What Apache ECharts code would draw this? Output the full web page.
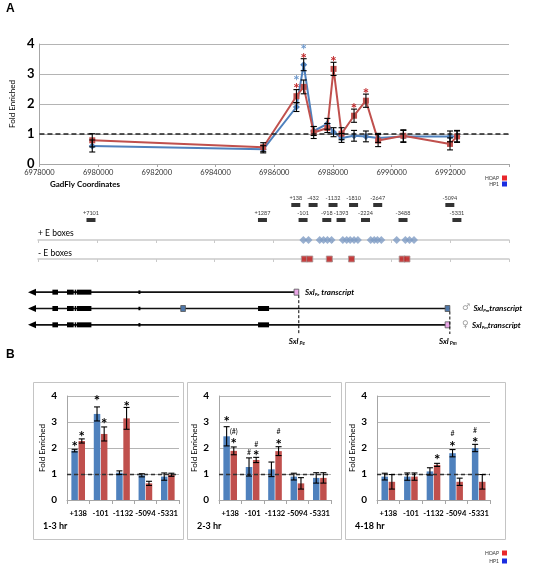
<!DOCTYPE html>
<html><head><meta charset="utf-8">
<script src="https://cdn.jsdelivr.net/npm/echarts@6/dist/echarts.min.js"></script>
<style>html,body{margin:0;padding:0;background:#fff}#c{width:549px;height:567px}</style>
</head><body><div id="c"></div>
<script>
// ---------- DATA ----------
const geneMin = 6978000, geneMax = 6994000, geneStep = 2000;
const ampliconNames  = ['+7101','+1287','+138','-101','-432','-918','-1132','-1393','-1810','-2224','-2647','-3488','-5094','-5331'];
const ampliconCoords = [6979800,6985625,6986757,6987004,6987345,6987810,6988022,6988295,6988720,6989125,6989540,6990400,6991990,6992230];
const ampliconRow    = [2,2,1,2,1,2,1,2,1,2,1,2,1,2];
const hp1A     = [0.60,0.49,1.90,3.31,1.10,1.34,1.06,0.87,0.94,0.92,0.87,0.92,0.92,0.92];
const hp1AErr  = [0.20,0.12,0.15,0.20,0.15,0.18,0.15,0.15,0.18,0.18,0.15,0.20,0.18,0.18];
const hoapA    = [0.79,0.56,2.26,2.57,1.05,1.20,3.17,1.01,1.61,2.11,0.78,0.94,0.67,0.92];
const hoapAErr = [0.22,0.15,0.22,0.23,0.20,0.15,0.22,0.20,0.22,0.22,0.20,0.20,0.20,0.20];
const hp1AStars  = [[6986757,2.90],[6987004,3.92]];
const hoapAStars = [[6986757,2.62],[6987004,3.62],[6988022,3.55],[6988720,1.98],[6989125,2.48]];
const plusEBoxes  = [6987015,6987189,6987570,6987701,6987832,6987973,6988355,6988486,6988605,6988736,6988867,6989302,6989422,6989531,6989662,6990185,6990479,6990621,6990773];
const minusEBoxes = [6987048,6987233,6987897,6988649,6990370,6990533];
const transcriptLanes = ['SxlPe','maleSxlPm','femaleSxlPm'];
const transcriptSpans = [[0,6977660,6986859],[1,6977660,6991990],[2,6977660,6991990]];
const exons = [
  [0,6978489,6978680,1],[0,6978985,6979213,1],[0,6979247,6979300,1],[0,6979325,6979814,1],[0,6981411,6981479,0],
  [1,6978489,6978680,1],[1,6978985,6979213,1],[1,6979247,6979300,1],[1,6979325,6979814,1],[1,6981411,6981479,0],[1,6985475,6985849,1],
  [2,6978489,6978680,1],[2,6978985,6979213,1],[2,6979247,6979300,1],[2,6979325,6979814,1],[2,6981411,6981479,0],[2,6985475,6985849,1]
];
const tssBoxes = [[0,6986699,6986859,'pink'],[1,6982849,6983009,'blue'],[1,6991830,6991990,'blue'],[2,6991830,6991990,'pink']];
const promoters = [[6986859,0,'Pe'],[6991990,1,'Pm']];

const bCategories = ['+138','-101','-1132','-5094','-5331'];
const bPanels = ['1-3 hr','2-3 hr','4-18 hr'];
const hp1B  = [[1.90,3.31,1.05,0.95,0.90],[2.45,1.27,1.18,0.90,0.85],[0.90,0.90,1.10,1.80,2.00]];
const hp1BErr  = [[0.05,0.27,0.07,0.06,0.14],[0.37,0.35,0.28,0.13,0.20],[0.13,0.14,0.14,0.14,0.14]];
const hoapB = [[2.27,2.54,3.14,0.64,0.97],[1.89,1.54,1.88,0.64,0.85],[0.70,0.90,1.35,0.70,0.70]];
const hoapBErr = [[0.08,0.27,0.42,0.08,0.06],[0.15,0.10,0.17,0.22,0.20],[0.28,0.14,0.06,0.14,0.28]];
const bMarks = [
  [[0,0,2.20,'*'],[0,1,2.56,'*'],[1,0,3.97,'*'],[1,1,3.08,'*'],[2,1,3.74,'*']],
  [[0,0,3.16,'*'],[0,1,2.62,'(#)'],[0,1,2.30,'*'],[1,0,1.82,'#'],[1,1,2.14,'#'],[1,1,1.86,'*'],[2,1,2.63,'#'],[2,1,2.27,'*']],
  [[2,1,1.70,'*'],[3,0,2.54,'#'],[3,0,2.18,'*'],[4,0,2.67,'#'],[4,0,2.33,'*']]
];

// ---------- STYLE ----------
const BLUE = '#4f81bd', RED = '#c0504d', FONT = 'Lato, "Liberation Sans", sans-serif';
const GRIDC = '#b4b4b4';
const chart = echarts.init(document.getElementById('c'), null, {renderer: 'canvas'});

function errSeries(xi, yi, data, offset) {
  return {
    type: 'custom', xAxisIndex: xi, yAxisIndex: yi, clip: false, z: 5, silent: true,
    data: data, encode: {x: 0, y: [1, 2]},
    renderItem: function (p, api) {
      const a = api.coord([api.value(0), api.value(1)]);
      const b = api.coord([api.value(0), api.value(2)]);
      const x = a[0] + offset, w = 3;
      const st = {stroke: '#000', lineWidth: 1.1};
      return {type: 'group', children: [
        {type: 'line', shape: {x1: x, y1: a[1], x2: x, y2: b[1]}, style: st},
        {type: 'line', shape: {x1: x - w, y1: a[1], x2: x + w, y2: a[1]}, style: st},
        {type: 'line', shape: {x1: x - w, y1: b[1], x2: x + w, y2: b[1]}, style: st}
      ]};
    }
  };
}
function textSeries(xi, yi, data, colorFn, sizeFn, offsetFn) {
  return {
    type: 'custom', xAxisIndex: xi, yAxisIndex: yi, clip: false, z: 6, silent: true,
    data: data, encode: {x: 0, y: 1},
    renderItem: function (p, api) {
      const d = data[p.dataIndex];
      const c = api.coord([api.value(0), api.value(1)]);
      const fs = sizeFn(d);
      const isStar = d[d.length - 1] === '*' || d.length === 2;
      return {type: 'text', x: c[0] + offsetFn(d), y: c[1] + (isStar ? fs * 0.28 : 0),
        style: {text: d.length === 2 ? '*' : d[d.length - 1], fill: colorFn(d),
          font: (isStar ? 'bold ' : '') + fs + 'px ' + FONT, align: 'center', verticalAlign: 'middle'}};
    }
  };
}

const grids = [
  {left: 38, top: 44, width: 471, height: 120},
  {left: 38, top: 190, width: 471, height: 45},
  {left: 38, top: 230, width: 471, height: 10},
  {left: 38, top: 249, width: 471, height: 10},
  {left: 38, top: 284, width: 471, height: 49},
  {left: 67, top: 396, width: 112, height: 104},
  {left: 219, top: 396, width: 112, height: 104},
  {left: 377, top: 396, width: 113, height: 104}
];
const hidden = {show: false};
const xAxes = [
  {gridIndex: 0, type: 'value', min: geneMin, max: geneMax, interval: geneStep,
   axisLine: {lineStyle: {color: '#a6a6a6'}}, axisTick: {show: true, length: 3, lineStyle: {color: '#a6a6a6'}},
   splitLine: hidden,
   axisLabel: {fontSize: 7.5, color: '#333', fontFamily: FONT, margin: 5,
     formatter: v => v >= geneMax ? '' : String(v)}},
  {gridIndex: 1, type: 'value', min: geneMin, max: geneMax, show: false},
  {gridIndex: 2, type: 'value', min: geneMin, max: geneMax, interval: geneStep,
   axisLine: {lineStyle: {color: '#cacaca', width: 1.5}}, axisTick: {show: true, length: 3, lineStyle: {color: '#cacaca'}},
   axisLabel: hidden, splitLine: hidden},
  {gridIndex: 3, type: 'value', min: geneMin, max: geneMax, interval: geneStep,
   axisLine: {lineStyle: {color: '#cacaca', width: 1.5}}, axisTick: {show: true, length: 3, lineStyle: {color: '#cacaca'}},
   axisLabel: hidden, splitLine: hidden},
  {gridIndex: 4, type: 'value', min: geneMin, max: geneMax, show: false}
];
const yAxes = [
  {gridIndex: 0, type: 'value', min: 0, max: 4, interval: 1,
   name: 'Fold Enriched', nameLocation: 'middle', nameGap: 16, nameRotate: 90,
   nameTextStyle: {fontSize: 8, color: '#000', fontFamily: FONT},
   axisLine: {show: true, lineStyle: {color: '#a6a6a6'}}, axisTick: hidden,
   axisLabel: {fontSize: 13, fontWeight: 'bold', color: '#000', fontFamily: FONT, margin: 5},
   splitLine: {lineStyle: {color: GRIDC}}},
  {gridIndex: 1, type: 'value', min: 0, max: 3, inverse: true, show: false},
  {gridIndex: 2, type: 'value', min: 0, max: 1, show: false},
  {gridIndex: 3, type: 'value', min: 0, max: 1, show: false},
  {gridIndex: 4, type: 'category', data: transcriptLanes, inverse: true, show: false}
];
bPanels.forEach((_, k) => {
  xAxes.push({gridIndex: 5 + k, type: 'category', data: bCategories,
    axisLine: {lineStyle: {color: '#a6a6a6'}}, axisTick: {show: true, length: 4, lineStyle: {color: '#a6a6a6'}},
    axisLabel: {fontSize: 7.6, fontWeight: 'bold', color: '#000', fontFamily: FONT, margin: 10, interval: 0}});
  yAxes.push({gridIndex: 5 + k, type: 'value', min: 0, max: 4, interval: 1,
    name: 'Fold Enriched', nameLocation: 'middle', nameGap: 21, nameRotate: 90,
    nameTextStyle: {fontSize: 8, color: '#000', fontFamily: FONT},
    axisLine: {show: true, lineStyle: {color: '#a6a6a6'}}, axisTick: hidden,
    axisLabel: {fontSize: 10, fontWeight: 'bold', color: '#000', fontFamily: FONT, margin: 10},
    splitLine: {lineStyle: {color: GRIDC}}});
});

const series = [];
// Panel A lines
const dashLine = {silent: true, symbol: 'none', label: {show: false},
  lineStyle: {type: [5, 3], color: '#222', width: 1.6}, data: [{yAxis: 1}]};
series.push({type: 'line', xAxisIndex: 0, yAxisIndex: 0, z: 3,
  data: ampliconCoords.map((x, i) => [x, hp1A[i]]),
  symbol: 'diamond', symbolSize: 7, itemStyle: {color: BLUE}, lineStyle: {color: BLUE, width: 2},
  markLine: dashLine});
series.push({type: 'line', xAxisIndex: 0, yAxisIndex: 0, z: 4,
  data: ampliconCoords.map((x, i) => [x, hoapA[i]]),
  symbol: 'rect', symbolSize: 6, itemStyle: {color: RED}, lineStyle: {color: RED, width: 2}});
series.push(errSeries(0, 0, ampliconCoords.map((x, i) => [x, hp1A[i] - hp1AErr[i], hp1A[i] + hp1AErr[i]]), 0));
series.push(errSeries(0, 0, ampliconCoords.map((x, i) => [x, hoapA[i] - hoapAErr[i], hoapA[i] + hoapAErr[i]]), 0));
series.push(textSeries(0, 0, hp1AStars, () => '#6d98cc', () => 15, () => 0));
series.push(textSeries(0, 0, hoapAStars, () => '#c0282a', () => 15, () => 0));

// Amplicons
series.push({type: 'scatter', xAxisIndex: 1, yAxisIndex: 1, symbol: 'rect', symbolSize: [9, 4], silent: true,
  itemStyle: {color: '#000'},
  data: ampliconCoords.map((x, i) => ({value: [x, ampliconRow[i]], name: ampliconNames[i]})),
  label: {show: true, position: 'top', distance: 2, formatter: p => p.name,
    fontSize: 5.5, color: '#000', fontFamily: FONT}});
// E boxes
series.push({type: 'scatter', xAxisIndex: 2, yAxisIndex: 2, symbol: 'diamond', symbolSize: 8, silent: true,
  itemStyle: {color: '#7f9cc4'}, data: plusEBoxes.map(x => [x, 0])});
series.push({type: 'scatter', xAxisIndex: 3, yAxisIndex: 3, symbol: 'rect', symbolSize: 6, silent: true,
  itemStyle: {color: '#bb1111', borderColor: '#a99', borderWidth: 1}, data: minusEBoxes.map(x => [x, 0])});

// Transcripts
series.push({type: 'custom', xAxisIndex: 4, yAxisIndex: 4, clip: false, silent: true,
  data: transcriptSpans, encode: {x: [1, 2], y: 0},
  renderItem: function (p, api) {
    const a = api.coord([api.value(1), api.value(0)]);
    const b = api.coord([api.value(2), api.value(0)]);
    return {type: 'group', children: [
      {type: 'line', shape: {x1: a[0] + 4, y1: a[1], x2: b[0], y2: b[1]}, style: {stroke: '#111', lineWidth: 1.6}},
      {type: 'polygon', shape: {points: [[a[0], a[1]], [a[0] + 8, a[1] - 3.5], [a[0] + 8, a[1] + 3.5]]}, style: {fill: '#000'}}
    ]};
  }});
series.push({type: 'custom', xAxisIndex: 4, yAxisIndex: 4, clip: false, silent: true,
  data: exons, encode: {x: [1, 2], y: 0},
  renderItem: function (p, api) {
    const a = api.coord([api.value(1), api.value(0)]);
    const b = api.coord([api.value(2), api.value(0)]);
    const h = api.value(3) ? 5 : 3.5;
    return {type: 'rect', shape: {x: a[0], y: a[1] - h / 2, width: Math.max(b[0] - a[0], 1.5), height: h}, style: {fill: '#000'}};
  }});
series.push({type: 'custom', xAxisIndex: 4, yAxisIndex: 4, clip: false, silent: true, z: 4,
  data: tssBoxes, encode: {x: [1, 2], y: 0},
  renderItem: function (p, api) {
    const d = tssBoxes[p.dataIndex];
    const a = api.coord([d[1], d[0]]);
    const b = api.coord([d[2], d[0]]);
    return {type: 'rect', shape: {x: a[0], y: a[1] - 3, width: b[0] - a[0], height: 6},
      style: {fill: d[3] === 'pink' ? '#e9a6e6' : '#4f77a8', stroke: '#555', lineWidth: 0.8}};
  }});
series.push({type: 'custom', xAxisIndex: 4, yAxisIndex: 4, clip: false, silent: true, z: 5,
  data: promoters, encode: {x: 0, y: 1},
  renderItem: function (p, api) {
    const d = promoters[p.dataIndex];
    const a = api.coord([d[0], d[1]]);
    const bottom = p.coordSys.y + p.coordSys.height;
    return {type: 'group', children: [
      {type: 'line', shape: {x1: a[0], y1: a[1] + 3, x2: a[0], y2: bottom + 1}, style: {stroke: '#000', lineWidth: 1, lineDash: [3, 2]}},
      {type: 'text', x: a[0] - 2, y: bottom + 8, style: {
        text: '{s|Sxl}{p| ' + d[2] + '}', align: 'center', verticalAlign: 'middle',
        rich: {s: {font: 'italic bold 8px ' + FONT, fill: '#000'}, p: {font: 'italic bold 5px ' + FONT, fill: '#000', padding: [5, 0, 0, 0]}}}}
    ]};
  }});

// Panel B
bPanels.forEach((_, k) => {
  const xi = 5 + k;
  const bw = 6.5, gapPct = 0.1, off = (bw + bw * gapPct) / 2;
  series.push({type: 'bar', xAxisIndex: xi, yAxisIndex: xi, data: hp1B[k], barWidth: bw, barGap: '10%',
    itemStyle: {color: BLUE}, silent: true,
    markLine: {silent: true, symbol: 'none', label: {show: false},
      lineStyle: {type: [4, 3], color: '#333', width: 1.3}, data: [{yAxis: 1}]}});
  series.push({type: 'bar', xAxisIndex: xi, yAxisIndex: xi, data: hoapB[k], barWidth: bw, barGap: '10%',
    itemStyle: {color: RED}, silent: true});
  series.push(errSeries(xi, xi, hp1B[k].map((v, i) => [i, v - hp1BErr[k][i], v + hp1BErr[k][i]]), -off));
  series.push(errSeries(xi, xi, hoapB[k].map((v, i) => [i, v - hoapBErr[k][i], v + hoapBErr[k][i]]), off));
  series.push(textSeries(xi, xi, bMarks[k].map(m => [m[0], m[2], m[1], m[3]]), () => '#000',
    d => d[3] === '*' ? 15 : 7, d => d[2] ? off : -off));
});

// ---------- Static text / frames ----------
const g = [];
function txt(x, y, text, font, opts) {
  g.push(Object.assign({type: 'text', x: x, y: y, silent: true,
    style: Object.assign({text: text, font: font, fill: '#000', align: 'left', verticalAlign: 'middle'}, opts || {})}));
}
txt(6, 9, 'A', 'bold 12px Arial, sans-serif');
txt(6, 355, 'B', 'bold 12px Arial, sans-serif');
txt(50, 184, 'GadFly Coordinates', 'bold 8px ' + FONT);
txt(38, 233, '+ E boxes', '8.5px ' + FONT);
txt(38, 253, '- E boxes', '8.5px ' + FONT);
// legends
[[178, 'HOAP', '#e8262b'], [184, 'HP1', '#1a2de0'], [553, 'HOAP', '#e8262b'], [561, 'HP1', '#1a2de0']].forEach(l => {
  txt(499, l[0], l[1], '5px ' + FONT, {align: 'right', fill: '#333'});
  g.push({type: 'rect', silent: true, shape: {x: 502, y: l[0] - 2.5, width: 5, height: 5}, style: {fill: l[2]}});
});
// transcript labels
const richT = {s: {font: 'italic bold 8px ' + FONT, fill: '#000'}, p: {font: 'italic bold 4.5px ' + FONT, fill: '#000', padding: [5, 0, 0, 0]},
  t: {font: 'italic bold 8px ' + FONT, fill: '#000'}, g: {font: '9px "DejaVu Sans"', fill: '#999'}};
g.push({type: 'text', x: 305, y: 292, silent: true, style: {text: '{s|Sxl}{p|Pe}{t| transcript}', rich: richT, verticalAlign: 'middle'}});
g.push({type: 'text', x: 462, y: 308, silent: true, style: {text: '{g|♂} {s|Sxl}{p|Pm}{t|transcript}', rich: richT, verticalAlign: 'middle'}});
g.push({type: 'text', x: 462, y: 325, silent: true, style: {text: '{g|♀} {s|Sxl}{p|Pm}{t|transcript}', rich: richT, verticalAlign: 'middle'}});
// B frames & titles
[[33, 150], [187, 154], [345, 160]].forEach((f, k) => {
  g.push({type: 'rect', silent: true, z: -1, shape: {x: f[0] + 0.5, y: 382.5, width: f[1], height: 157}, style: {fill: 'none', stroke: '#c4c4c4', lineWidth: 1}});
  txt(f[0] + 10, 526, bPanels[k], 'bold 9px ' + FONT);
});

chart.setOption({
  animation: false,
  backgroundColor: '#fff',
  textStyle: {fontFamily: FONT},
  grid: grids,
  xAxis: xAxes,
  yAxis: yAxes,
  series: series,
  graphic: g
});
</script></body></html>
